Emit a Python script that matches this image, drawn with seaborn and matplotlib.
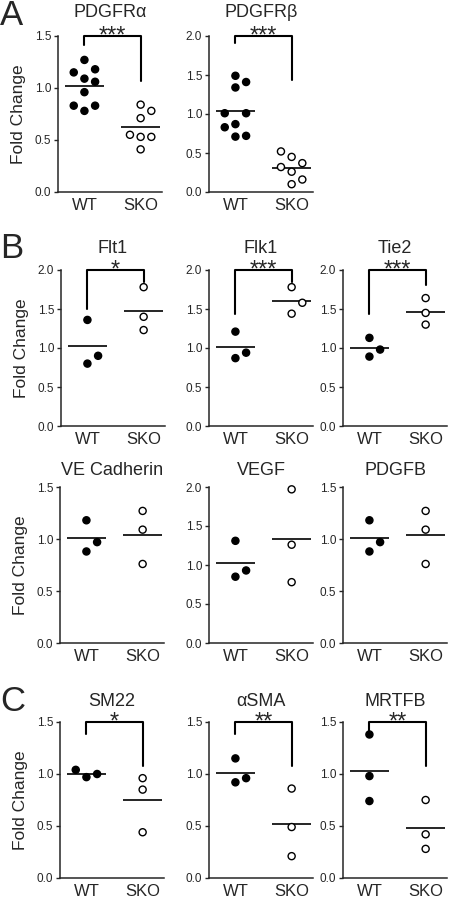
"""
Scatter-with-mean panels (WT vs SKO fold change), three figure blocks A-C.
Saves out.png (450x900).
"""

import matplotlib
matplotlib.use("Agg")
import matplotlib.pyplot as plt
import numpy as np
import pandas as pd
import seaborn as sns

# ---- data (fold change) ----
pdgfra_wt = [1.27, 1.18, 1.15, 1.09, 1.06, 0.96, 0.83, 0.83, 0.78]
pdgfra_sko = [0.84, 0.78, 0.71, 0.55, 0.53, 0.53, 0.41]
pdgfrb_wt = [1.49, 1.41, 1.34, 1.01, 1.01, 0.87, 0.83, 0.72, 0.71]
pdgfrb_sko = [0.52, 0.45, 0.37, 0.32, 0.26, 0.16, 0.10]

flt1_wt = [1.36, 0.90, 0.80]
flt1_sko = [1.78, 1.40, 1.23]
flk1_wt = [1.21, 0.94, 0.87]
flk1_sko = [1.78, 1.58, 1.44]
tie2_wt = [1.13, 0.98, 0.89]
tie2_sko = [1.64, 1.45, 1.30]

vecad_wt = [1.18, 0.97, 0.88]
vecad_sko = [1.27, 1.09, 0.76]
vegf_wt = [1.31, 0.93, 0.85]
vegf_sko = [1.97, 1.26, 0.78]
pdgfb_wt = [1.18, 0.97, 0.88]
pdgfb_sko = [1.27, 1.09, 0.76]

sm22_wt = [1.04, 1.00, 0.97]
sm22_sko = [0.96, 0.85, 0.44]
asma_wt = [1.15, 0.96, 0.92]
asma_sko = [0.86, 0.49, 0.21]
mrtfb_wt = [1.38, 0.98, 0.74]
mrtfb_sko = [0.75, 0.42, 0.28]

groups = ["WT", "SKO"]

# rows of panels: (title, wt, sko, y max, stars, bracket leg ends)
rows = [
    [("PDGFRα", pdgfra_wt, pdgfra_sko, 1.5, "***", (1.41, 1.07)),
     ("PDGFRβ", pdgfrb_wt, pdgfrb_sko, 2.0, "***", (1.91, 1.43))],
    [("Flt1", flt1_wt, flt1_sko, 2.0, "*", (1.50, 1.84)),
     ("Flk1", flk1_wt, flk1_sko, 2.0, "***", (1.43, 1.84)),
     ("Tie2", tie2_wt, tie2_sko, 2.0, "***", (1.43, 1.81))],
    [("VE Cadherin", vecad_wt, vecad_sko, 1.5, None, None),
     ("VEGF", vegf_wt, vegf_sko, 2.0, None, None),
     ("PDGFB", pdgfb_wt, pdgfb_sko, 1.5, None, None)],
    [("SM22", sm22_wt, sm22_sko, 1.5, "*", (1.38, 1.08)),
     ("αSMA", asma_wt, asma_sko, 1.5, "**", (1.38, 1.08)),
     ("MRTFB", mrtfb_wt, mrtfb_sko, 1.5, "**", (1.38, 1.08))],
]

# ---- layout (pixels) ----
FIG_W, FIG_H = 450, 900
AX_W, AX_H = 104, 156
row_tops = [36, 270, 487, 722]
row_lefts = [[58, 209], [61, 209, 343], [60, 209, 343], [60, 209, 343]]
title_pads = [19, 17, 12, 16]
letters = [("A", 25), ("B", 258), (None, None), ("C", 711)]

sns.set_style("ticks")
plt.rcParams["font.family"] = ["Liberation Sans", "DejaVu Sans"]
plt.rcParams["axes.linewidth"] = 1.1


def slot_offsets(values, ymax, slot=0.19, min_gap_px=11):
    """Prism-like column scatter: centre first, then spread to the sides."""
    gap = min_gap_px * ymax / AX_H
    placed = []
    offs = np.zeros(len(values))
    for i in np.argsort(values, kind="stable"):
        v = values[i]
        n_left = sum(1 for s, _ in placed if s < 0)
        n_right = sum(1 for s, _ in placed if s > 0)
        cands = [0]
        for k in range(1, 5):
            cands += [k, -k] if n_right <= n_left else [-k, k]
        for s in cands:
            if all(abs(v - pv) >= gap for ps, pv in placed if ps == s):
                placed.append((s, v))
                offs[i] = s * slot
                break
    return offs


def draw_panel(ax, title, wt, sko, ymax, stars, legs, pad, first):
    recs = []
    for gi, (g, vals) in enumerate(zip(groups, [wt, sko])):
        for v, o in zip(vals, slot_offsets(vals, ymax)):
            recs.append({"group": g, "value": v, "x": gi + o})
    df = pd.DataFrame(recs)

    sns.scatterplot(data=df, x="x", y="value", hue="group",
                    palette={"WT": "black", "SKO": "white"},
                    edgecolor="black", linewidth=1.0, s=26,
                    legend=False, ax=ax, zorder=3, clip_on=False)

    means = df.groupby("group", sort=False)["value"].mean()
    for gi, g in enumerate(groups):
        ax.hlines(means[g], gi - 0.35, gi + 0.35, color="black", lw=1.2)

    ax.set_xlim(-0.47, 1.38)
    ax.set_ylim(0, ymax)
    ticks = np.arange(0, ymax + 0.01, 0.5)
    ax.set_yticks(ticks)
    ax.set_yticklabels([f"{t:.1f}" for t in ticks])
    ax.set_xticks([0, 1])
    ax.set_xticklabels(groups)
    ax.set_xlabel("")
    ax.set_ylabel("Fold Change" if first else "", fontsize=12.5, labelpad=6)
    ax.tick_params(axis="y", length=3, width=1, labelsize=8.5, pad=2)
    ax.tick_params(axis="x", length=0, labelsize=12, pad=4)
    ax.set_title(title, fontsize=13, pad=pad * 0.72)
    sns.despine(ax=ax)

    if stars:
        ax.plot([0, 0, 1, 1], [legs[0], ymax, ymax, legs[1]],
                color="black", lw=1.5, clip_on=False, zorder=4)
        ax.annotate(stars, (0.5, ymax), xytext=(0, -5),
                    textcoords="offset points", ha="center",
                    va="baseline", fontsize=17, annotation_clip=False)


fig = plt.figure(figsize=(FIG_W / 100, FIG_H / 100), dpi=100)

for r, panels in enumerate(rows):
    for c, (title, wt, sko, ymax, stars, legs) in enumerate(panels):
        left = row_lefts[r][c]
        top = row_tops[r]
        ax = fig.add_axes([left / FIG_W, 1 - (top + AX_H) / FIG_H,
                           AX_W / FIG_W, AX_H / FIG_H])
        draw_panel(ax, title, wt, sko, ymax, stars, legs,
                   title_pads[r], c == 0)

for letter, base in letters:
    if letter:
        fig.text(0, 1 - base / FIG_H, letter, fontsize=25,
                 va="baseline", ha="left")

fig.savefig("out.png", dpi=100)
plt.close(fig)
